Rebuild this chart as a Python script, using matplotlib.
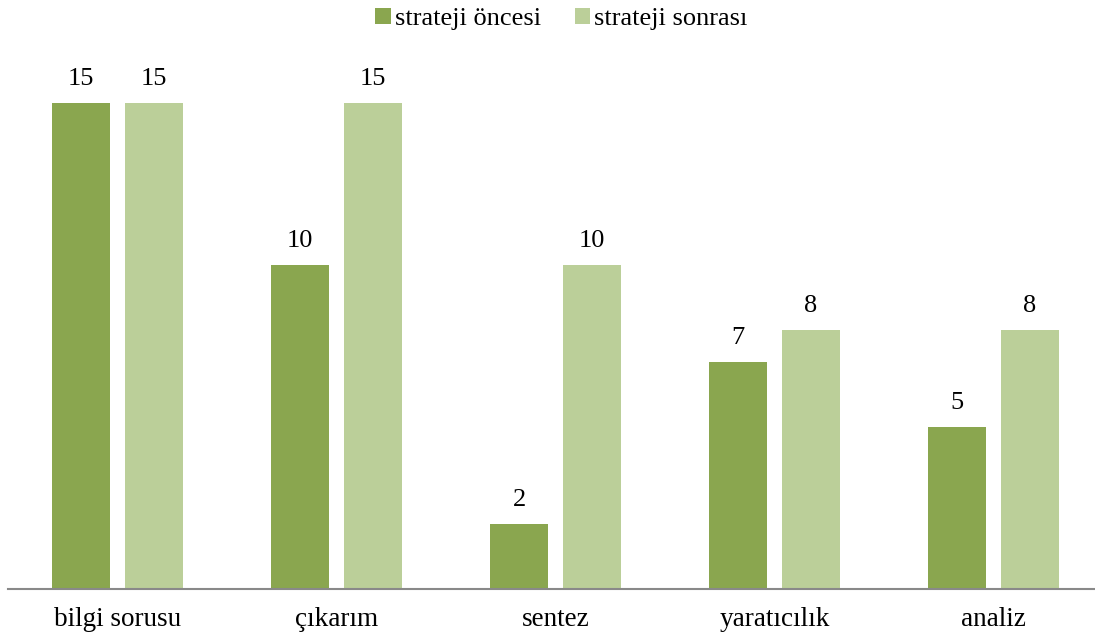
import numpy as np
import matplotlib.pyplot as plt

plt.rcParams['font.family'] = ['Liberation Serif', 'DejaVu Serif']

categories = ['bilgi sorusu', 'çıkarım', 'sentez', 'yaratıcılık', 'analiz']
before = [15, 10, 2, 7, 5]
after = [15, 15, 10, 8, 8]
series_names = ['strateji öncesi', 'strateji sonrası']
colors = ['#8AA64F', '#BBCF99']

W, H = 1095, 639
fig = plt.figure(figsize=(W / 100, H / 100), dpi=100)
ax = fig.add_axes([8 / W, (H - 589) / H, 1087 / W, 549 / H])

x = np.arange(len(categories))
bw = 58 / 219
off = 36.5 / 219
b1 = ax.bar(x - off, before, bw, color=colors[0], label=series_names[0])
b2 = ax.bar(x + off, after, bw, color=colors[1], label=series_names[1])

for bars, vals in ((b1, before), (b2, after)):
    for rect, v in zip(bars, vals):
        ax.annotate(str(v), (rect.get_x() + rect.get_width() / 2, v),
                    xytext=(0, 13), textcoords='offset points',
                    ha='center', va='baseline', fontsize=19)

ax.set_xlim(-0.5, -0.5 + 1087 / 219)
ax.set_ylim(0, 549 / 32.4)
ax.set_xticks(x)
ax.set_xticklabels(categories, fontsize=19.5)
ax.tick_params(axis='x', length=0, pad=13)
ax.set_yticks([])
for s in ('top', 'right', 'left'):
    ax.spines[s].set_visible(False)
ax.spines['bottom'].set_color('#898989')
ax.spines['bottom'].set_linewidth(1.5)

fig.legend(loc='center', bbox_to_anchor=(561.5 / W, 1 - 19 / H), ncol=2, frameon=False,
           fontsize=19, handlelength=0.58, handleheight=0.55, handletextpad=0.15,
           columnspacing=1.3)

fig.savefig('out.png', dpi=100)
